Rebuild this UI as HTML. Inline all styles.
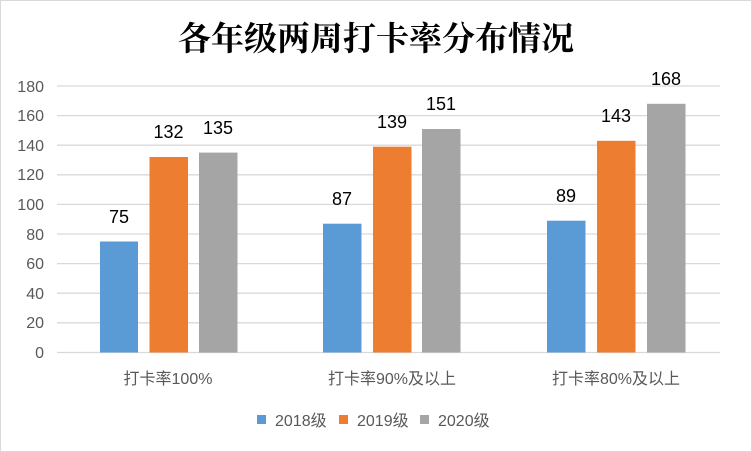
<!DOCTYPE html>
<html><head><meta charset="utf-8"><style>
body{margin:0;background:#fff}
svg{display:block}
</style></head><body>
<svg width="752" height="452" xmlns="http://www.w3.org/2000/svg" font-family="Liberation Sans, Noto Sans CJK SC, sans-serif">
<rect x="0.5" y="0.5" width="751" height="451" fill="#fff" stroke="#d9d9d9"/>
<text x="376" y="50" text-anchor="middle" font-size="33" font-weight="bold" font-family="Noto Serif CJK SC, serif" fill="#000">各年级两周打卡率分布情况</text>
<g stroke="#d9d9d9" stroke-width="1.3">
<line x1="57" x2="720" y1="86" y2="86"/><line x1="57" x2="720" y1="115.6" y2="115.6"/>
<line x1="57" x2="720" y1="145.2" y2="145.2"/><line x1="57" x2="720" y1="174.8" y2="174.8"/>
<line x1="57" x2="720" y1="204.4" y2="204.4"/><line x1="57" x2="720" y1="234" y2="234"/>
<line x1="57" x2="720" y1="263.6" y2="263.6"/><line x1="57" x2="720" y1="293.2" y2="293.2"/>
<line x1="57" x2="720" y1="322.8" y2="322.8"/><line x1="57" x2="720" y1="352.5" y2="352.5"/>
</g>
<g font-size="16" fill="#595959" text-anchor="end">
<text x="44" y="92">180</text><text x="44" y="121">160</text><text x="44" y="151">140</text>
<text x="44" y="180">120</text><text x="44" y="210">100</text><text x="44" y="240">80</text>
<text x="44" y="269">60</text><text x="44" y="299">40</text><text x="44" y="328">20</text><text x="44" y="358">0</text>
</g>
<g>
<rect x="100" y="241.5" width="38" height="111" fill="#5b9bd5"/>
<rect x="149.5" y="157" width="38.5" height="195.5" fill="#ed7d31"/>
<rect x="199" y="152.6" width="38.5" height="200" fill="#a5a5a5"/>
<rect x="323" y="223.7" width="38.5" height="128.8" fill="#5b9bd5"/>
<rect x="373" y="146.7" width="38.5" height="205.8" fill="#ed7d31"/>
<rect x="422" y="129" width="38.5" height="223.5" fill="#a5a5a5"/>
<rect x="547" y="220.7" width="38.5" height="131.8" fill="#5b9bd5"/>
<rect x="597" y="140.8" width="38.5" height="211.7" fill="#ed7d31"/>
<rect x="647" y="103.8" width="38.5" height="248.7" fill="#a5a5a5"/>
</g>
<g font-size="18" fill="#000" text-anchor="middle">
<text x="119" y="223">75</text><text x="168.5" y="138">132</text><text x="218" y="134">135</text>
<text x="342" y="205">87</text><text x="392" y="128">139</text><text x="441" y="110">151</text>
<text x="566" y="202">89</text><text x="616" y="122">143</text><text x="666" y="85">168</text>
</g>
<g font-size="16" fill="#595959" text-anchor="middle">
<text x="168" y="384">打卡率100%</text><text x="392" y="384">打卡率90%及以上</text><text x="616" y="384">打卡率80%及以上</text>
</g>
<g font-size="16" fill="#595959">
<rect x="257" y="415" width="9" height="9" fill="#5b9bd5"/><text x="275" y="426">2018级</text>
<rect x="339" y="415" width="9" height="9" fill="#ed7d31"/><text x="357" y="426">2019级</text>
<rect x="420" y="415" width="9" height="9" fill="#a5a5a5"/><text x="438" y="426">2020级</text>
</g>
</svg>
</body></html>
